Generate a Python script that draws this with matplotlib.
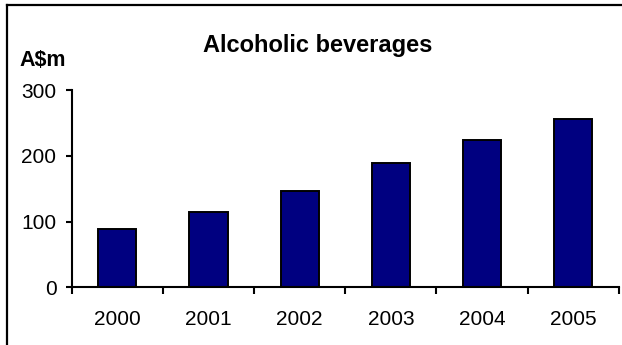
import matplotlib
matplotlib.use("Agg")
import matplotlib.pyplot as plt
from matplotlib.lines import Line2D

years = ["2000", "2001", "2002", "2003", "2004", "2005"]
values = [89, 114, 147, 189, 225, 257]

plt.rcParams["font.family"] = ["Liberation Sans", "DejaVu Sans"]

fig = plt.figure(figsize=(6.22, 3.45), dpi=100)
ax = fig.add_axes([0.1153, 0.1672, 0.8797, 0.571])

x = range(len(years))
ax.bar(x, values, width=0.42, color="#000080", edgecolor="black", linewidth=1.4)

ax.set_ylim(0, 300)
ax.set_xlim(-0.5, len(years) - 0.5)
ax.set_yticks([0, 100, 200, 300])
ax.set_xticks([i - 0.5 for i in range(len(years) + 1)])
ax.set_xticklabels([])
ax.set_xticks(list(x), minor=True)
ax.set_xticklabels(years, minor=True)

for side in ("top", "right"):
    ax.spines[side].set_visible(False)
for side in ("left", "bottom"):
    ax.spines[side].set_linewidth(1.5)

ax.tick_params(axis="y", length=4, width=1.5, labelsize=15, pad=7)
ax.tick_params(axis="x", which="major", length=5, width=1.5, direction="out")
ax.tick_params(axis="x", which="minor", length=0, labelsize=15, pad=16)

fig.text(0.51, 0.85, "Alcoholic beverages", ha="center", va="baseline",
         fontsize=17, fontweight="bold")
fig.text(0.032, 0.809, "A$m", ha="left", va="baseline", fontsize=15.5,
         fontweight="bold")

# frame (only top and left edges visible in the crop)
fig.add_artist(Line2D([0.011, 1.0], [0.986, 0.986], color="black", lw=1.6,
                      transform=fig.transFigure))
fig.add_artist(Line2D([0.011, 0.011], [0.0, 0.986], color="black", lw=1.6,
                      transform=fig.transFigure))

fig.savefig("out.png", dpi=100)
